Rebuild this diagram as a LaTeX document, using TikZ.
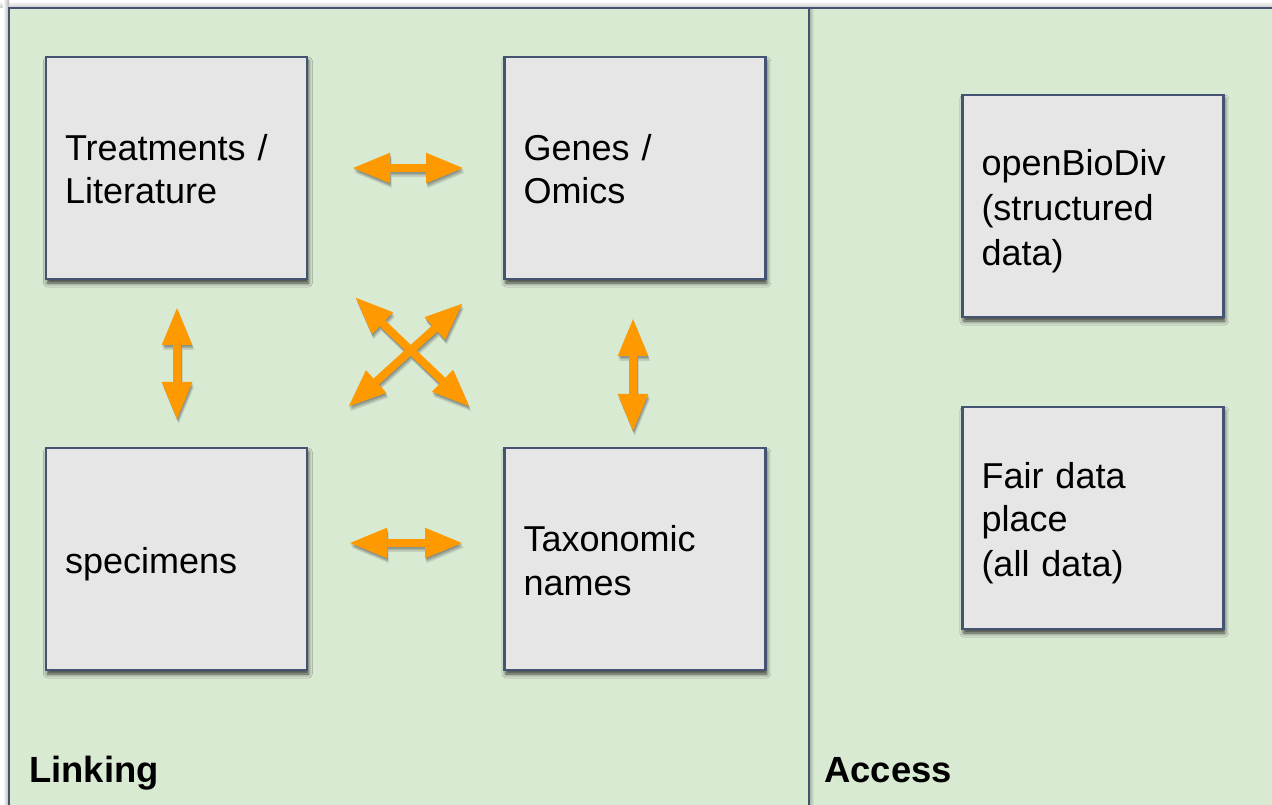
\documentclass[tikz,border=0pt]{standalone}
\usepackage{fontspec}
\setmainfont{Liberation Sans}
\usetikzlibrary{arrows.meta,calc,shadows.blur}
\definecolor{panelgreen}{HTML}{D9EAD3}
\definecolor{boxgray}{HTML}{E6E6E6}
\definecolor{edgeblue}{HTML}{435371}
\definecolor{arroworange}{HTML}{FF9900}
% one strut per line keeps every text line 43px apart
\newcommand{\lnstrut}{\vrule height 27pt depth 5.25pt width 0pt}

\begin{document}
\begin{tikzpicture}[x=0.75pt,y=-0.75pt,
  panel/.style={rectangle, draw=edgeblue, line width=1.65pt, fill=panelgreen,
    outer sep=0pt, inner sep=0pt},
  card/.style={rectangle, draw=edgeblue, line width=1.65pt, fill=boxgray,
    outer sep=0pt, minimum width=195.75pt, minimum height=166.5pt,
    text width=167.25pt, inner xsep=14.25pt, inner ysep=0pt, align=left,
    font=\fontsize{27}{32.25}\selectfont,
    blur shadow={shadow xshift=1pt, shadow yshift=-3pt, shadow blur radius=3pt, shadow opacity=75}},
  heading/.style={anchor=base west, inner sep=0pt,
    font=\fontsize{27.3}{32.25}\selectfont\bfseries},
  link/.style={draw=arroworange, line width=6pt,
    arrows={Triangle[length=28.5pt,width=21pt]-Triangle[length=28.5pt,width=21pt]}},
  linkshade/.style={draw=black!80, line width=6pt,
    arrows={Triangle[length=28.5pt,width=21pt]-Triangle[length=28.5pt,width=21pt]}}
]
\useasboundingbox (0,0) rectangle (1272,805);
\begin{scope}
\clip (0,0) rectangle (1272,805);
\fill[white] (0,0) rectangle (1272,805);

% soft shade round the outer edges of the panels
\shade[top color=white, bottom color=black!22] (0,1) rectangle (1272,8);
\shade[left color=white, right color=black!30] (3,1) rectangle (9,830);

% the two panels
\node[panel, minimum width=368.25pt, minimum height=616.5pt] (accesspanel) at (1054.5,419) {};
\shade[left color=black!25!panelgreen, right color=panelgreen] (809,10) rectangle (814,830);
\node[panel, minimum width=600pt, minimum height=616.5pt] (linkpanel) at (409,419) {};

\node[heading] (linkinglabel) at (29,782) {Linking};
\node[heading] (accesslabel) at (824,782) {Access};

% data boxes
\node[card] (tl) at (176.5,168) {\lnstrut Treatments /\\\lnstrut Literature};
\node[card] (tr) at (635,168) {\lnstrut Genes /\\\lnstrut Omics};
\node[card] (bl) at (176.5,559) {\lnstrut specimens};
\node[card] (br) at (635,559) {\lnstrut Taxonomic\\\lnstrut names};
\node[card] (ob) at (1093,206) {\lnstrut openBioDiv\\\lnstrut (structured\\\lnstrut data)};
\node[card] (fd) at (1093,518) {\lnstrut Fair data\\\lnstrut place\\\lnstrut (all data)};

% arrow ends, set off from the boxes they join
\coordinate (h1a) at ($(tl.east)+(45,0)$);
\coordinate (h1b) at ($(tr.west)+(-40.5,0)$);
\coordinate (h2a) at ($(bl.east)+(42,-16)$);
\coordinate (h2b) at ($(br.west)+(-41.5,-16)$);
\coordinate (v1a) at ($(tl.south)+(0.5,28)$);
\coordinate (v1b) at ($(bl.north)+(0.5,-28)$);
\coordinate (v2a) at ($(tr.south)+(-2,39)$);
\coordinate (v2b) at ($(br.north)+(-2,-16)$);
\coordinate (d1a) at ($(tl.south east)+(48,18)$);
\coordinate (d1b) at ($(br.north west)+(-34.5,-41)$);
\coordinate (d2a) at ($(tr.south west)+(-41.5,24)$);
\coordinate (d2b) at ($(bl.north east)+(41,-41)$);

% soft shadow under the arrows
\foreach \sx/\sy/\op in {0.4pt/-1.2pt/0.22, 0.9pt/-2.4pt/0.2, 1.3pt/-3.6pt/0.15} {
  \begin{scope}[transform canvas={xshift=\sx, yshift=\sy}]
  \begin{scope}[transparency group, opacity=\op]
    \draw[linkshade] (h1a) -- (h1b);
    \draw[linkshade] (h2a) -- (h2b);
    \draw[linkshade] (v1a) -- (v1b);
    \draw[linkshade] (v2a) -- (v2b);
    \draw[linkshade] (d1a) -- (d1b);
    \draw[linkshade] (d2a) -- (d2b);
  \end{scope}
  \end{scope}
}

% two-way links
\draw[link] (h1a) -- (h1b);
\draw[link] (h2a) -- (h2b);
\draw[link] (v1a) -- (v1b);
\draw[link] (v2a) -- (v2b);
\draw[link] (d1a) -- (d1b);
\draw[link] (d2a) -- (d2b);
\end{scope}
\end{tikzpicture}
\end{document}
